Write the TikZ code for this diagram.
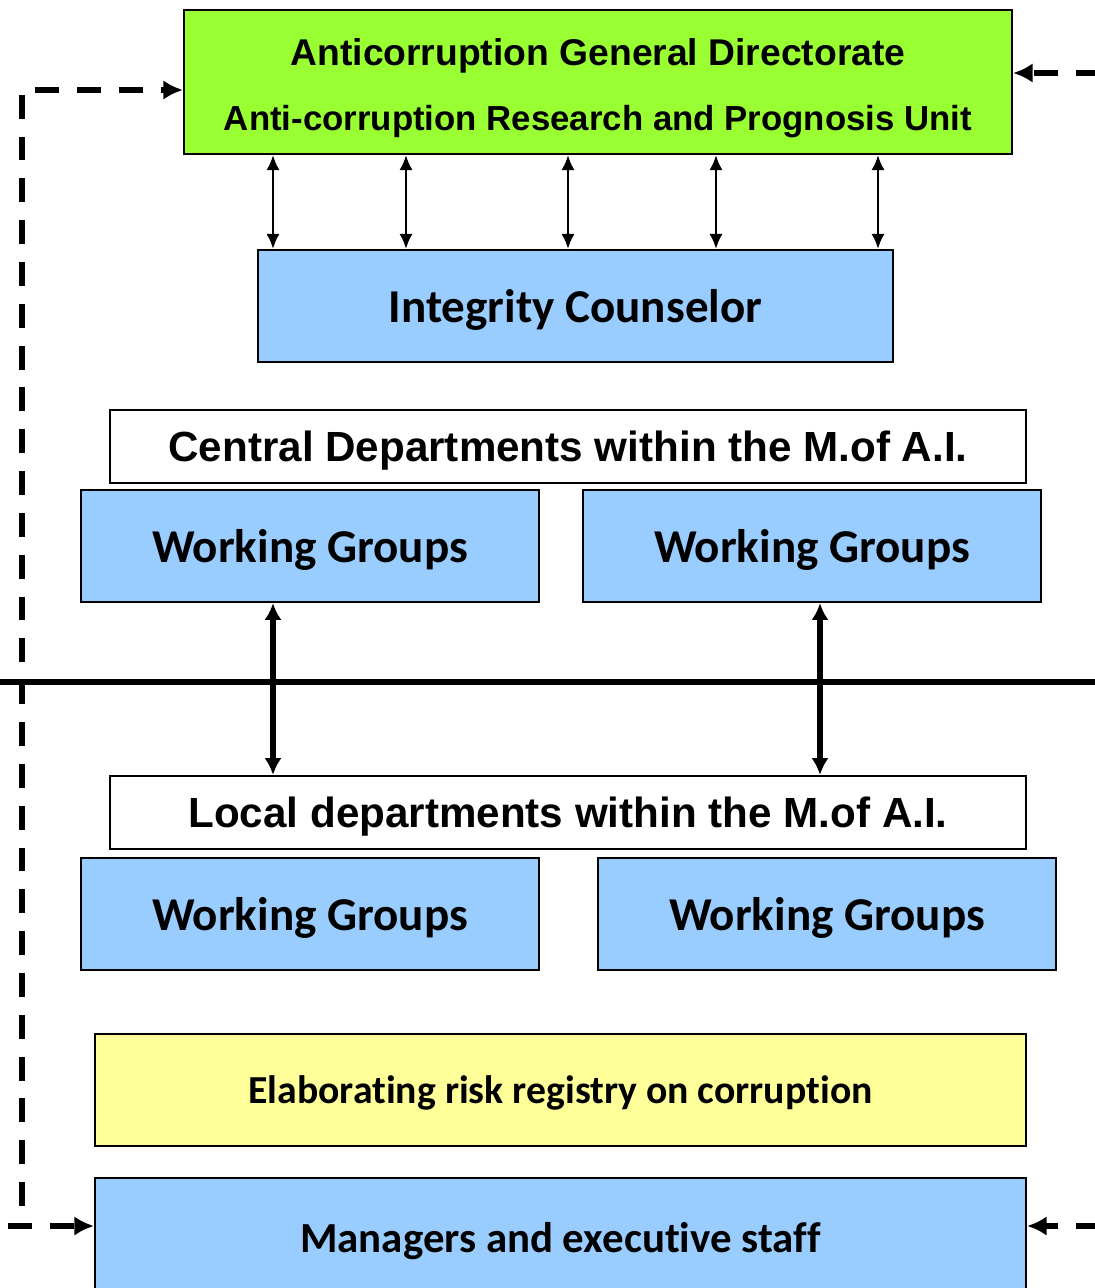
\documentclass[tikz,border=0pt]{standalone}
\usepackage{fontspec}
\setmainfont{Liberation Sans}
\newfontfamily\calibri{Carlito}[Ligatures=NoCommon]
\usetikzlibrary{arrows.meta}
\definecolor{limegreen}{HTML}{99FF33}
\definecolor{paleblue}{HTML}{99CCFF}
\definecolor{paleyellow}{HTML}{FFFF99}

\begin{document}
\begin{tikzpicture}[x=0.1mm,y=-0.1mm,
	box/.style={draw,line width=0.6pt,inner sep=0pt,text depth=0pt,minimum height=11.2mm},
	unit/.style={box,fill=paleblue,font=\calibri\bfseries\fontsize{13.4}{16}\selectfont},
	dept/.style={box,minimum width=91.6mm,minimum height=7.3mm,font=\bfseries\fontsize{12}{14}\selectfont},
	link/.style={{Latex[length=4.3pt,width=3.8pt]}-{Latex[length=4.3pt,width=3.8pt]},line width=0.7pt},
	bilink/.style={{Latex[length=4.8pt,width=4.9pt]}-{Latex[length=4.8pt,width=4.9pt]},line width=1.7pt},
	report/.style={-{Latex[length=5.6pt,width=5.6pt]},line width=1.7pt,dash pattern=on 6.8pt off 5.1pt}]
\useasboundingbox (0,0) rectangle (1095,1288);
%	\draw [help lines,step=100] (0,0) grid (1095,1288);

	% directorate and counselor
	\node[box,fill=limegreen,minimum width=82.8mm,minimum height=14.4mm,align=center,
		font=\bfseries\fontsize{10.6}{18.5}\selectfont] (adg) at (598,82)
		{\rule{0pt}{9.2pt}Anticorruption General Directorate\\
		 {\fontsize{9.9}{18.5}\selectfont Anti-corruption Research and Prognosis Unit}};
	\node[unit,minimum width=63.5mm] (counsel) at (575.5,306) {Integrity Counselor};
	\foreach \x in {273,406,568,716,878}
		\draw[link] (\x,0 |- adg.south) -- (\x,0 |- counsel.north);

	% central level
	\node[dept,fill=white] (central) at (568,446.5) {Central Departments within the M.of A.I.};
	\node[unit,minimum width=45.8mm] (wg1) at (310,546) {Working Groups};
	\node[unit,minimum width=45.8mm] (wg2) at (812,546) {Working Groups};

	\draw[line width=1.7pt] (0,682) -- (1095,682);

	% local level
	\node[dept,fill=white] (local) at (568,812.5) {Local departments within the M.of A.I.};
	\node[unit,minimum width=45.8mm] (wg3) at (310,914) {Working Groups};
	\node[unit,minimum width=45.8mm] (wg4) at (827,914) {Working Groups};
	\draw[bilink] (273,0 |- wg1.south) -- (273,0 |- local.north);
	\draw[bilink] (820,0 |- wg2.south) -- (820,0 |- local.north);

	\node[box,fill=paleyellow,minimum width=93.1mm,font=\calibri\bfseries\fontsize{11.3}{14}\selectfont]
		(risk) at (560.5,1090) {Elaborating risk registry on corruption};
	\node[unit,minimum width=93.1mm,minimum height=11.8mm,font=\calibri\bfseries\fontsize{12.2}{15}\selectfont]
		(staff) at (560.5,1237) {Managers and executive staff};

	% feedback loops
	\coordinate (lfoot) at (22,1206);
	\coordinate (lbend) at (22,90);
	\draw[report] (lfoot) -- (lbend) -- (lbend -| adg.west);
	\draw[report] (8,1226) -- (8,1226 -| staff.west);
	\draw[report] (1100,73) -- (1100,73 -| adg.east);
	\draw[report] (1100,1226) -- (1100,1226 -| staff.east);
\end{tikzpicture}
\end{document}
